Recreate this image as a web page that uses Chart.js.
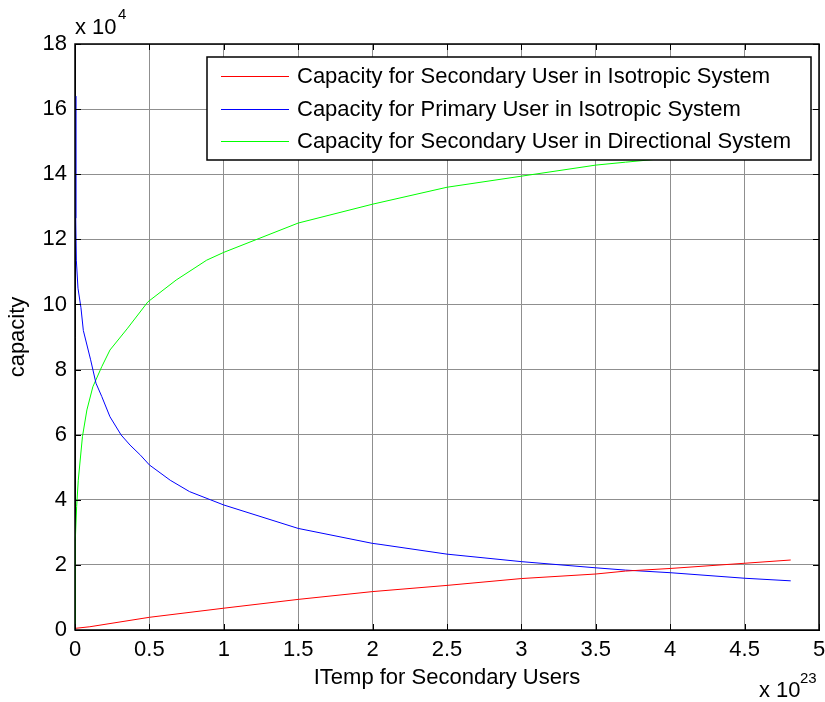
<!DOCTYPE html>
<html>
<head>
<meta charset="utf-8">
<script src="https://cdn.jsdelivr.net/npm/chart.js@4.4.0/dist/chart.umd.min.js"></script>
<style>
  html, body { margin: 0; padding: 0; background: #fff; }
  #wrap { width: 825px; height: 702px; }
</style>
</head>
<body>
<div id="wrap"><canvas id="chart" width="825" height="702"></canvas></div>
<script>
// x values are in units of 1e23, capacity in units of 1e4
const xTickValues = [0, 0.5, 1, 1.5, 2, 2.5, 3, 3.5, 4, 4.5, 5];
const xTickLabels = ["0", "0.5", "1", "1.5", "2", "2.5", "3", "3.5", "4", "4.5", "5"];
const yTickValues = [0, 2, 4, 6, 8, 10, 12, 14, 16, 18];
const yTickLabels = ["0", "2", "4", "6", "8", "10", "12", "14", "16", "18"];

const seriesNames = [
  "Capacity for Secondary User in Isotropic System",
  "Capacity for Primary User in Isotropic System",
  "Capacity for Secondary User in Directional System"
];
const seriesColors = ["#ff0000", "#0000ff", "#00ff00"];

// red: secondary user, isotropic
const secIsoX = [0, 0.1, 0.5, 1.0, 1.5, 2.0, 2.5, 3.0, 3.5, 3.7, 4.0, 4.5, 4.81];
const secIsoY = [0.05, 0.1, 0.39, 0.67, 0.94, 1.18, 1.37, 1.58, 1.72, 1.81, 1.89, 2.05, 2.15];

// blue: primary user, isotropic
const priIsoX = [0.005, 0.005, 0.009, 0.02, 0.04, 0.056, 0.105, 0.141, 0.18, 0.235, 0.31, 0.37, 0.44, 0.5,
  0.64, 0.77, 0.91, 1.0, 1.5, 2.0, 2.05, 2.5, 3.0, 3.5, 3.7, 4.0, 4.5, 4.81];
const priIsoY = [16.4, 12.65, 11.36, 10.5, 9.9, 9.2, 8.3, 7.58, 7.17, 6.55, 5.99, 5.68, 5.37, 5.07,
  4.6, 4.25, 4.0, 3.84, 3.12, 2.66, 2.63, 2.33, 2.10, 1.91, 1.84, 1.76, 1.59, 1.51];

// green: secondary user, directional
const secDirX = [0.002, 0.002, 0.011, 0.022, 0.05, 0.08, 0.12, 0.18, 0.235, 0.35, 0.49, 0.68, 0.885,
  1.0, 1.5, 2.0, 2.5, 3.0, 3.5, 3.7, 4.0, 4.5, 4.81];
const secDirY = [0, 2.76, 3.79, 4.6, 5.94, 6.76, 7.47, 8.09, 8.6, 9.25, 10.08, 10.75, 11.36,
  11.6, 12.5, 13.08, 13.6, 13.94, 14.28, 14.37, 14.5, 14.7, 14.85];

const toPoints = (xs, ys) => xs.map((x, i) => ({ x: x, y: ys[i] }));

const FONT = "'Liberation Sans', Arial, sans-serif";
Chart.defaults.font.family = FONT;
Chart.defaults.font.size = 22;
Chart.defaults.color = "#000";

// box around the plot with small inward ticks, plus the exponent labels
const frame = {
  id: "frame",
  afterDraw(chart) {
    const { ctx, chartArea: a, scales } = chart;
    ctx.save();
    ctx.strokeStyle = "#000";
    ctx.lineWidth = 1;
    ctx.beginPath();
    xTickValues.forEach((v) => {
      const px = Math.round(scales.x.getPixelForValue(v)) + 0.5;
      ctx.moveTo(px, a.bottom); ctx.lineTo(px, a.bottom - 6);
      ctx.moveTo(px, a.top); ctx.lineTo(px, a.top + 6);
    });
    yTickValues.forEach((v) => {
      const py = Math.round(scales.y.getPixelForValue(v)) + 0.5;
      ctx.moveTo(a.left, py); ctx.lineTo(a.left + 6, py);
      ctx.moveTo(a.right, py); ctx.lineTo(a.right - 6, py);
    });
    ctx.stroke();
    ctx.lineWidth = 1.5;
    ctx.strokeRect(a.left, a.top, a.right - a.left, a.bottom - a.top);

    ctx.fillStyle = "#000";
    ctx.textBaseline = "alphabetic";
    ctx.textAlign = "left";
    ctx.font = "22px " + FONT;
    ctx.fillText("x 10", a.left, 34);
    ctx.fillText("x 10", 759, 697);
    ctx.font = "15px " + FONT;
    ctx.fillText("4", 118, 19);
    ctx.fillText("23", 800, 683);
    ctx.restore();
  }
};

// legend drawn inside the plot, over the lines
const boxLegend = {
  id: "boxLegend",
  afterDatasetsDraw(chart) {
    const { ctx } = chart;
    const left = 207, top = 57, right = 811, bottom = 160;
    ctx.save();
    ctx.fillStyle = "#fff";
    ctx.fillRect(left, top, right - left, bottom - top);
    ctx.strokeStyle = "#000";
    ctx.lineWidth = 1.5;
    ctx.strokeRect(left, top, right - left, bottom - top);
    ctx.font = "22px " + FONT;
    ctx.textBaseline = "middle";
    ctx.fillStyle = "#000";
    seriesNames.forEach((name, i) => {
      const y = 76 + i * 32.5;
      ctx.strokeStyle = seriesColors[i];
      ctx.lineWidth = 1;
      ctx.beginPath();
      ctx.moveTo(221, Math.round(y) + 0.5);
      ctx.lineTo(289, Math.round(y) + 0.5);
      ctx.stroke();
      ctx.fillText(name, 297, y + 1);
    });
    ctx.restore();
  }
};

const datasets = [
  toPoints(secIsoX, secIsoY),
  toPoints(priIsoX, priIsoY),
  toPoints(secDirX, secDirY)
].map((pts, i) => ({
  label: seriesNames[i],
  data: pts,
  borderColor: seriesColors[i],
  backgroundColor: seriesColors[i],
  borderWidth: 1,
  pointRadius: 0,
  tension: 0,
  fill: false,
  clip: 3
}));

new Chart(document.getElementById("chart").getContext("2d"), {
  type: "line",
  data: { datasets: datasets },
  options: {
    responsive: false,
    animation: false,
    devicePixelRatio: 1,
    layout: { padding: { top: 44, right: 6, left: 0, bottom: 0 } },
    plugins: {
      legend: { display: false },
      tooltip: { enabled: false }
    },
    scales: {
      x: {
        type: "linear",
        min: 0,
        max: 5,
        afterBuildTicks: (s) => { s.ticks = xTickValues.map((v) => ({ value: v })); },
        afterFit: (s) => { s.height = 72; s.paddingLeft = 0; s.paddingRight = 0; },
        ticks: {
          padding: 7,
          maxRotation: 0,
          autoSkip: false,
          callback: (v, i) => xTickLabels[i]
        },
        grid: { color: "#8f8f8f", drawTicks: false },
        border: { color: "#000" },
        title: {
          display: true,
          text: "ITemp for Secondary Users",
          font: { size: 22 },
          padding: { top: 0, bottom: 11 }
        }
      },
      y: {
        min: 0,
        max: 18,
        afterBuildTicks: (s) => { s.ticks = yTickValues.map((v) => ({ value: v })); },
        afterFit: (s) => { s.width = 75; s.paddingTop = 0; s.paddingBottom = 0; },
        ticks: {
          padding: 8,
          autoSkip: false,
          callback: (v, i) => yTickLabels[i]
        },
        grid: { color: "#8f8f8f", drawTicks: false },
        border: { color: "#000" },
        title: {
          display: true,
          text: "capacity",
          font: { size: 22 },
          padding: { top: 5, bottom: 0 }
        }
      }
    }
  },
  plugins: [frame, boxLegend]
});
</script>
</body>
</html>
